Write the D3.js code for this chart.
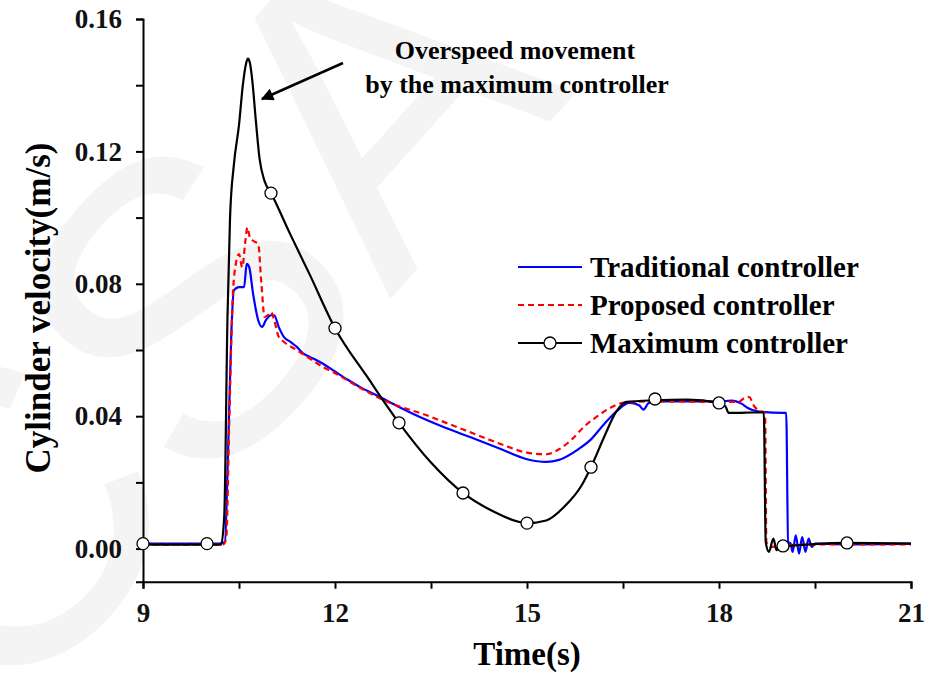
<!DOCTYPE html>
<html>
<head>
<meta charset="utf-8">
<script src="https://cdn.jsdelivr.net/npm/d3@7"></script>
<style>
  body { margin: 0; background: #fff; }
  text { font-family: 'Liberation Serif', 'Times New Roman', serif; font-weight: bold; }
</style>
</head>
<body>
<script>
// traditional controller (blue)
var tradT = [9.0, 10.2, 10.28, 10.33, 10.38, 10.42, 10.5, 10.58, 10.62, 10.66, 10.72, 10.8, 10.86, 10.92, 11.0, 11.05,
  11.12, 11.2, 11.3, 11.4, 11.5, 11.6, 11.8, 12.0, 12.2, 12.4, 12.6, 12.8, 13.0, 13.3, 13.6, 14.0, 14.3, 14.6, 15.0,
  15.3, 15.5, 15.8, 16.0, 16.2, 16.4, 16.6, 16.75, 16.82, 16.9, 17.0, 17.5, 18.0, 18.2, 18.35, 18.45, 18.6, 19.0, 19.05,
  19.08, 19.12, 19.15, 19.2, 19.25, 19.3, 19.35, 19.4, 19.45, 19.5, 20.0, 21.0]
var tradV = [0.0015, 0.0015, 0.002, 0.03, 0.065, 0.078, 0.079, 0.079, 0.086, 0.085, 0.077, 0.069, 0.067, 0.069, 0.0705, 0.0705,
  0.067, 0.064, 0.0625, 0.061, 0.059, 0.058, 0.056, 0.0535, 0.051, 0.0487, 0.0468, 0.0448, 0.0428, 0.040, 0.0375, 0.0345, 0.0323, 0.030, 0.027,
  0.0262, 0.0268, 0.030, 0.033, 0.0375, 0.0415, 0.044, 0.0433, 0.042, 0.044, 0.0445, 0.0445, 0.0445, 0.0447, 0.0438, 0.0425, 0.0415, 0.041, 0.041,
  0.002, 0.0015, -0.001, 0.004, -0.0015, 0.0035, -0.001, 0.003, 0.0005, 0.0015, 0.0013, 0.0015]

// proposed controller (red dashed)
var propT = [9.0, 10.25, 10.3, 10.35, 10.4, 10.45, 10.5, 10.55, 10.6, 10.63, 10.67, 10.72, 10.8, 10.85, 10.9, 10.95, 11.0,
  11.05, 11.12, 11.2, 11.4, 11.6, 11.8, 12.0, 12.4, 12.8, 13.0, 13.4, 13.8, 14.2, 14.6, 15.0, 15.3, 15.5, 15.7, 15.9,
  16.1, 16.3, 16.5, 17.0, 18.0, 18.3, 18.4, 18.47, 18.55, 18.65, 18.72, 18.74, 18.8, 19.0, 20.0, 21.0]
var propV = [0.0012, 0.0012, 0.003, 0.04, 0.075, 0.086, 0.089, 0.085, 0.093, 0.097, 0.094, 0.093, 0.092, 0.080, 0.070, 0.0705, 0.0715,
  0.069, 0.064, 0.0625, 0.060, 0.0575, 0.055, 0.053, 0.0485, 0.0445, 0.043, 0.0405, 0.0375, 0.0345, 0.0315, 0.029, 0.0285, 0.030, 0.033, 0.037,
  0.040, 0.0425, 0.044, 0.0445, 0.0443, 0.0443, 0.0455, 0.0458, 0.043, 0.0415, 0.041, 0.002, 0.0005, 0.001, 0.0013, 0.0013]

// maximum controller (black with circles)
var maxT = [9.0, 10.22, 10.27, 10.32, 10.36, 10.42, 10.5, 10.56, 10.61, 10.64, 10.67, 10.71, 10.76, 10.82, 10.9, 11.0, 11.3, 11.6, 12.0,
  12.5, 13.0, 13.5, 14.0, 14.5, 15.0, 15.3, 15.6, 15.85, 16.0, 16.2, 16.4, 16.55, 17.0, 17.5, 18.0, 18.1, 18.15, 18.7,
  18.73, 18.78, 18.85, 18.9, 18.95, 19.0, 19.2, 20.0, 21.0]
var maxV = [0.0012, 0.0012, 0.01, 0.07, 0.10, 0.116, 0.128, 0.140, 0.1465, 0.148, 0.1468, 0.141, 0.13, 0.118, 0.111, 0.1074, 0.095, 0.083, 0.0666,
  0.052, 0.038, 0.026, 0.0168, 0.011, 0.0077, 0.0085, 0.013, 0.019, 0.0246, 0.0335, 0.0415, 0.0443, 0.0448, 0.045, 0.044, 0.043, 0.041, 0.0412,
  0.002, -0.001, 0.003, -0.0005, 0.002, 0.0008, 0.001, 0.0017, 0.0015]

// circle markers on the maximum curve
var markT = [9, 10, 11, 12, 13, 14, 15, 16, 17, 18, 19, 20]
var markV = [0.0015, 0.0015, 0.1074, 0.0666, 0.038, 0.0168, 0.0077, 0.0246, 0.0452, 0.044, 0.0008, 0.0017]

var xTicks = [9, 10.5, 12, 13.5, 15, 16.5, 18, 19.5, 21]
var yTicks = [0, 0.02, 0.04, 0.06, 0.08, 0.10, 0.12, 0.14, 0.16]
var legendNames = ['Traditional controller', 'Proposed controller', 'Maximum controller']

var w = 934
var h = 673

var svg = d3.select('body')
  .append('svg')
  .attr('width', w)
  .attr('height', h)

// faint watermark in the background
svg.append('g')
  .attr('transform', 'translate(176,311) rotate(-48)')
  .append('text')
  .text('CSA')
  .attr('text-anchor', 'middle')
  .attr('dy', '0.36em')
  .style('font-family', 'Liberation Sans, Arial, sans-serif')
  .style('font-weight', 'normal')
  .attr('font-size', 420)
  .attr('fill', '#f4f4f4')

var x = d3.scaleLinear().domain([9, 21]).range([143, 911])
var y = d3.scaleLinear().domain([-0.01, 0.16]).range([581.7, 19])

function pts(ts, vs) {
  return ts.map(function(t, i){ return [t, vs[i]] })
}

var line = d3.line()
  .curve(d3.curveMonotoneX)
  .x(function(d){ return x(d[0]) })
  .y(function(d){ return y(d[1]) })

// axes
svg.append('g')
  .attr('transform', 'translate(0,' + y(-0.01) + ')')
  .call(d3.axisBottom(x).tickValues(xTicks).tickSize(7).tickPadding(14)
    .tickFormat(function(d){ return d % 3 === 0 ? d3.format('d')(d) : '' }))

svg.append('g')
  .attr('transform', 'translate(' + x(9) + ',0)')
  .call(d3.axisLeft(y).tickValues(yTicks).tickSize(7).tickPadding(14)
    .tickFormat(function(d){ return Math.round(d * 100) % 4 === 0 ? d3.format('.2f')(d) : '' }))

svg.selectAll('.domain').attr('stroke-width', 2).attr('stroke', '#000')
svg.selectAll('.tick line').attr('stroke-width', 2).attr('stroke', '#000')
svg.selectAll('.tick text')
  .attr('font-size', 27)
  .attr('fill', '#111')
  .style('font-family', 'Liberation Serif, serif')
  .style('font-weight', 'bold')

// series
svg.append('path')
  .attr('d', line(pts(tradT, tradV)))
  .attr('fill', 'none')
  .attr('stroke', '#0000ff')
  .attr('stroke-width', 2.2)

svg.append('path')
  .attr('d', line(pts(propT, propV)))
  .attr('fill', 'none')
  .attr('stroke', '#ff0000')
  .attr('stroke-width', 2.2)
  .attr('stroke-dasharray', '6,4')

svg.append('path')
  .attr('d', line(pts(maxT, maxV)))
  .attr('fill', 'none')
  .attr('stroke', '#000')
  .attr('stroke-width', 2.2)

svg.selectAll('circle.mark')
  .data(pts(markT, markV))
  .enter()
  .append('circle')
  .attr('class', 'mark')
  .attr('cx', function(d){ return x(d[0]) })
  .attr('cy', function(d){ return y(d[1]) })
  .attr('r', 6)
  .attr('fill', '#fff')
  .attr('stroke', '#000')
  .attr('stroke-width', 1.3)

// axis titles
svg.append('text')
  .text('Time(s)')
  .attr('x', 527)
  .attr('y', 665)
  .attr('text-anchor', 'middle')
  .attr('font-size', 33)

svg.append('text')
  .text('Cylinder velocity(m/s)')
  .attr('transform', 'translate(50,308) rotate(-90)')
  .attr('text-anchor', 'middle')
  .attr('font-size', 35)

// legend
var legY = [267, 305, 343]
var leg = svg.selectAll('g.leg')
  .data(legendNames)
  .enter()
  .append('g')
  .attr('class', 'leg')
  .attr('transform', function(d, i){ return 'translate(518,' + legY[i] + ')' })

leg.append('line')
  .attr('x1', 0)
  .attr('x2', 64)
  .attr('stroke', function(d, i){ return ['#0000ff', '#ff0000', '#000'][i] })
  .attr('stroke-width', 2.2)
  .attr('stroke-dasharray', function(d, i){ return i === 1 ? '6,4' : null })

leg.filter(function(d, i){ return i === 2 })
  .append('circle')
  .attr('cx', 32)
  .attr('r', 6)
  .attr('fill', '#fff')
  .attr('stroke', '#000')
  .attr('stroke-width', 1.3)

leg.append('text')
  .text(function(d){ return d })
  .attr('x', 72)
  .attr('y', 10)
  .attr('font-size', 29)

// annotation with arrow
svg.append('defs').append('marker')
  .attr('id', 'arr')
  .attr('viewBox', '0 0 10 10')
  .attr('refX', 9)
  .attr('refY', 5)
  .attr('markerWidth', 6)
  .attr('markerHeight', 5)
  .attr('orient', 'auto')
  .append('path')
  .attr('d', 'M0,0L10,5L0,10Z')
  .attr('fill', '#000')

svg.append('line')
  .attr('x1', 343).attr('y1', 63)
  .attr('x2', 262).attr('y2', 99)
  .attr('stroke', '#000')
  .attr('stroke-width', 2.5)
  .attr('marker-end', 'url(#arr)')

svg.append('text')
  .text('Overspeed movement')
  .attr('x', 515)
  .attr('y', 59)
  .attr('text-anchor', 'middle')
  .attr('font-size', 26)

svg.append('text')
  .text('by the maximum controller')
  .attr('x', 517)
  .attr('y', 93)
  .attr('text-anchor', 'middle')
  .attr('font-size', 26)
</script>
</body>
</html>
